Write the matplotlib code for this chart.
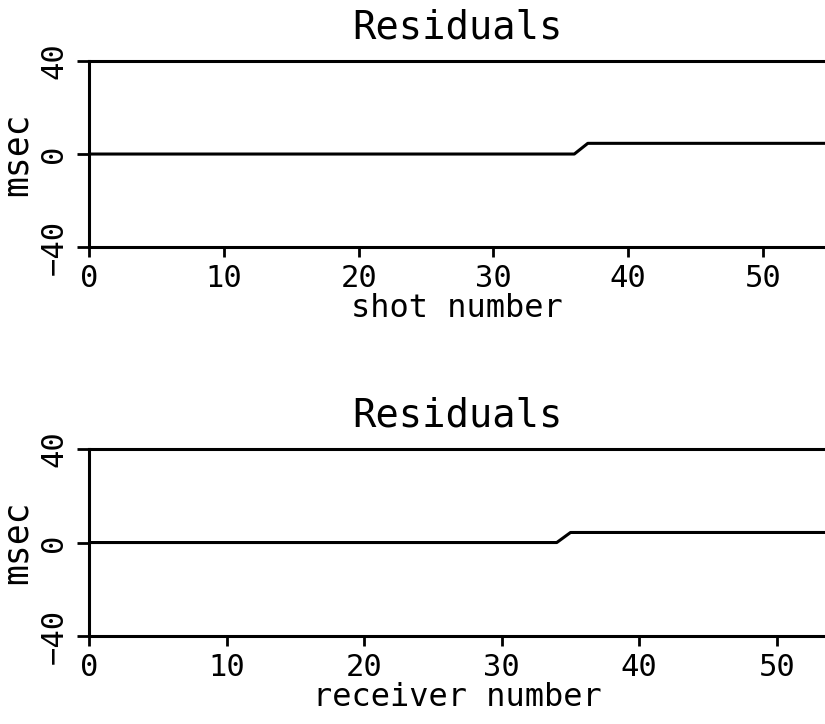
import matplotlib.pyplot as plt

plt.rcParams['font.family'] = 'DejaVu Sans Mono'

# residual curves, read as polyline vertices (x, msec)
shot_x = [0, 36, 37, 55]
shot_res = [0.0, 0.0, 4.6, 4.6]
recv_x = [0, 34, 35, 54]
recv_res = [0.0, 0.0, 4.3, 4.3]

yticks = [-40, 0, 40]
xticks = [0, 10, 20, 30, 40, 50]

fig = plt.figure(figsize=(8.25, 7.24), dpi=100)
ax1 = fig.add_axes([0.108, 0.6588, 0.892, 0.2569])
ax2 = fig.add_axes([0.108, 0.1215, 0.892, 0.2583])

panels = [
    (ax1, shot_x, shot_res, "shot number", 54.6),
    (ax2, recv_x, recv_res, "receiver number", 53.5),
]

for ax, x, y, xl, xmax in panels:
    ax.plot(x, y, color="black", lw=2.2)
    ax.set_xlim(0, xmax)
    ax.set_ylim(-40, 40)
    ax.set_xticks(xticks)
    ax.set_yticks(yticks)
    ax.spines["right"].set_visible(False)
    for s in ["left", "top", "bottom"]:
        ax.spines[s].set_linewidth(2.2)
    ax.tick_params(axis="x", length=7, width=2, pad=5, labelsize=22)
    ax.tick_params(axis="y", length=9, width=2, pad=6, labelsize=22)
    for lab in ax.get_yticklabels():
        lab.set_rotation(90)
        lab.set_va("center")
    ax.set_title("Residuals", fontsize=28, pad=16)
    ax.set_xlabel(xl, fontsize=23, labelpad=0)
    ax.set_ylabel("msec", fontsize=25)
    ax.yaxis.set_label_coords(-0.076, 0.5)

plt.savefig("out.png")
